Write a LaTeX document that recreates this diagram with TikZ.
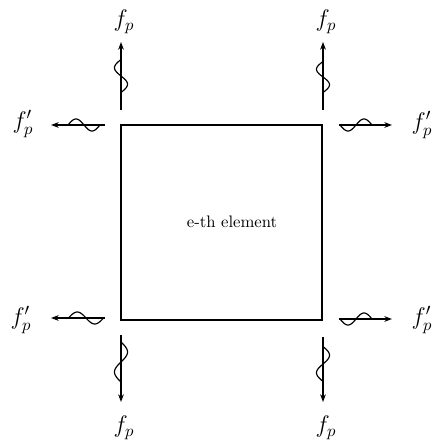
\documentclass[tikz,border=0pt]{standalone}
\usetikzlibrary{arrows.meta}
\begin{document}
\begin{tikzpicture}[x=0.6pt, y=-0.6pt, >={Stealth[length=4.6pt,width=3.4pt]},
    force/.style={->, line width=0.9pt},
    wave/.style={line width=0.7pt, smooth},
    lbl/.style={font=\Large}]
    \useasboundingbox (0,0) rectangle (437,441);

    % the element
    \draw[line width=1.2pt] (121,125) rectangle (322,320);
    \node (elem) at (232,222) {e-th element};

    % end points of the forces
    \coordinate (tlv0) at (121,110); \coordinate (tlv1) at (121,42);
    \coordinate (trv0) at (323,110); \coordinate (trv1) at (323,42);
    \coordinate (blv0) at (121,335); \coordinate (blv1) at (121,402);
    \coordinate (brv0) at (323,337); \coordinate (brv1) at (323,402);
    \coordinate (tlh0) at (105,125); \coordinate (tlh1) at (51,125);
    \coordinate (blh0) at (105,318); \coordinate (blh1) at (51,318);
    \coordinate (trh0) at (339,125); \coordinate (trh1) at (392,125);
    \coordinate (brh0) at (339,319); \coordinate (brh1) at (392,319);

    \draw[force] (tlv0) -- (tlv1);
    \draw[force] (trv0) -- (trv1);
    \draw[force] (blv0) -- (blv1);
    \draw[force] (brv0) -- (brv1);
    \draw[force] (tlh0) -- (tlh1);
    \draw[force] (blh0) -- (blh1);
    \draw[force] (trh0) -- (trh1);
    \draw[force] (brh0) -- (brh1);

    % the waves on the forces
    \draw[wave, shift={(121,76)}] plot[domain=0:360, samples=41] ({-6.5*sin(\x)}, {\x/360*33-16.5});
    \draw[wave, shift={(323,77)}] plot[domain=0:360, samples=41] ({-6.5*sin(\x)}, {\x/360*31-15.5});
    \draw[wave, shift={(121,362)}] plot[domain=0:360, samples=41] ({6.5*sin(\x)}, {\x/360*40-20});
    \draw[wave, shift={(323,364)}] plot[domain=0:360, samples=41] ({6.5*sin(\x)}, {\x/360*35-17.5});
    \draw[wave, shift={(84,125)}] plot[domain=0:360, samples=41] ({\x/360*32-16}, {-6*sin(\x)});
    \draw[wave, shift={(86,318)}] plot[domain=0:360, samples=41] ({\x/360*35-17.5}, {-6*sin(\x)});
    \draw[wave, shift={(356,125)}] plot[domain=0:360, samples=41] ({\x/360*32-16}, {6*sin(\x)});
    \draw[wave, shift={(356,319)}] plot[domain=0:360, samples=41] ({\x/360*32-16}, {6*sin(\x)});

    % labels
    \node[lbl] (ftl) at (124,22) {$f_p$};
    \node[lbl] (ftr) at (326,22) {$f_p$};
    \node[lbl] (fbl) at (124,428) {$f_p$};
    \node[lbl] (fbr) at (326,428) {$f_p$};
    \node[lbl] (gtl) at (23,124) {$f'_p$};
    \node[lbl] (gbl) at (21,320) {$f'_p$};
    \node[lbl] (gtr) at (422,125) {$f'_p$};
    \node[lbl] (gbr) at (422,320) {$f'_p$};
\end{tikzpicture}
\end{document}
